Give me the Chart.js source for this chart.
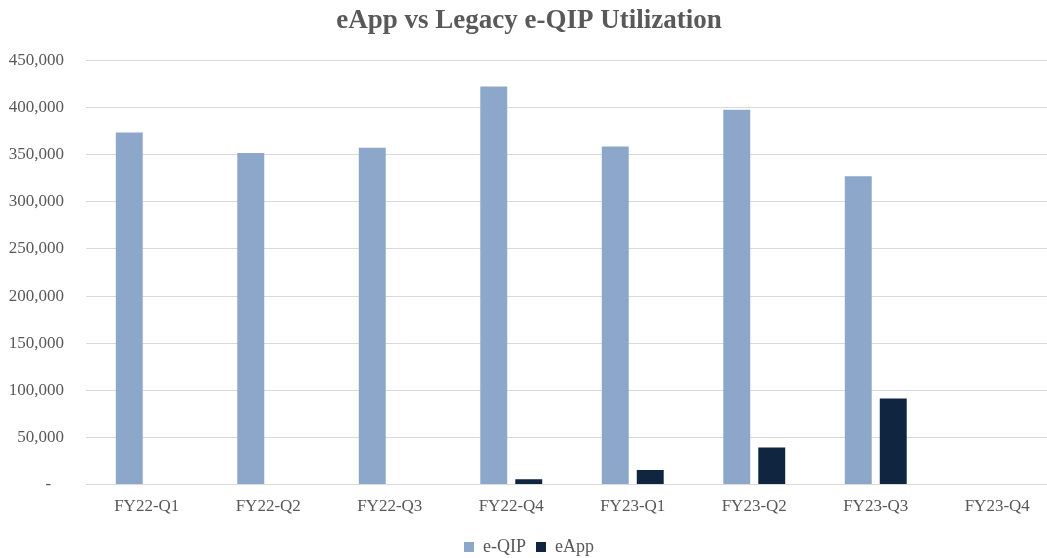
<!DOCTYPE html>
<html>
<head>
<meta charset="utf-8">
<script src="https://cdn.jsdelivr.net/npm/chart.js@4"></script>
<style>
    html, body { margin: 0; padding: 0; background: #fff; overflow: hidden; }
    #wrap { width: 1060px; height: 558px; position: relative; }
</style>
</head>
<body>
<div id="wrap"><canvas id="utilChart"></canvas></div>
<script>
const quarters = ['FY22-Q1', 'FY22-Q2', 'FY22-Q3', 'FY22-Q4', 'FY23-Q1', 'FY23-Q2', 'FY23-Q3', 'FY23-Q4'];
const eqipValues = [373600, 351700, 357400, 422300, 358700, 397600, 327000, null];
const eappValues = [null, null, null, 5800, 15400, 39400, 91300, null];
const yTicks = [0, 50000, 100000, 150000, 200000, 250000, 300000, 350000, 400000, 450000];

const serif = '"Liberation Serif", "Times New Roman", serif';
const textGray = '#595959';

function formatTick(value) {
    if (value === 0) return '-   ';
    return value.toLocaleString('en-US');
}

document.addEventListener('DOMContentLoaded', () => {
    const canvas = document.getElementById('utilChart');
    new Chart(canvas, {
        type: 'bar',
        data: {
            labels: quarters,
            datasets: [
                {
                    label: 'e-QIP',
                    data: eqipValues,
                    backgroundColor: '#8CA7CA',
                    borderWidth: 0,
                    categoryPercentage: 0.576,
                    barPercentage: 0.77
                },
                {
                    label: 'eApp',
                    data: eappValues,
                    backgroundColor: '#10253F',
                    borderWidth: 0,
                    categoryPercentage: 0.576,
                    barPercentage: 0.77
                }
            ]
        },
        options: {
            responsive: true,
            maintainAspectRatio: false,
            animation: false,
            layout: { padding: { left: 0, right: 2, top: 0, bottom: -8 } },
            plugins: {
                title: {
                    display: true,
                    text: 'eApp vs Legacy e-QIP Utilization',
                    color: textGray,
                    font: { family: serif, size: 27, weight: 'bold' },
                    padding: { top: 5, bottom: 23 }
                },
                legend: {
                    position: 'bottom',
                    labels: {
                        color: textGray,
                        font: { family: serif, size: 18 },
                        boxWidth: 10,
                        boxHeight: 10,
                        padding: 10
                    }
                },
                tooltip: { enabled: false }
            },
            scales: {
                x: {
                    grid: { display: false, drawTicks: false },
                    border: { color: '#d9d9d9' },
                    afterFit: axis => { axis.height -= 1; },
                    ticks: {
                        color: textGray,
                        font: { family: serif, size: 17 },
                        padding: 12,
                        maxRotation: 0
                    }
                },
                y: {
                    min: 0,
                    max: 450000,
                    afterBuildTicks: axis => { axis.ticks = yTicks.map(v => ({ value: v })); },
                    afterFit: axis => { axis.width = 86; },
                    grid: { color: '#d9d9d9', drawTicks: false },
                    border: { display: false },
                    ticks: {
                        color: textGray,
                        font: { family: serif, size: 17 },
                        padding: 22,
                        callback: value => formatTick(value)
                    }
                }
            }
        }
    });
});
</script>
</body>
</html>
